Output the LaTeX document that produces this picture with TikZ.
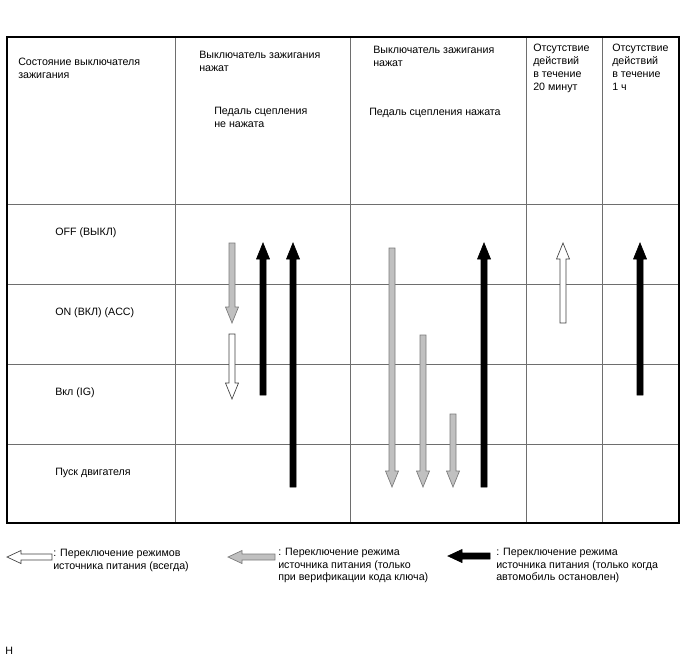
\documentclass[tikz,border=0pt]{standalone}
\usepackage{fontspec}
\setmainfont{Liberation Sans}
\usepackage{tikz}
\usepackage{xcolor}
\definecolor{keygray}{HTML}{C0C0C0}
\definecolor{keyedge}{HTML}{7A7A7A}
\definecolor{gridline}{HTML}{6E6E6E}

% block arrow, vertical: style, x, tail y, tip y
\newcommand{\vblock}[4]{%
  \pgfmathsetmacro{\arrbase}{#4-16*sign(#4-#3)}
  \draw[#1] (#2-3,#3) -- (#2-3,\arrbase) -- (#2-6.5,\arrbase) -- (#2,#4)
    -- (#2+6.5,\arrbase) -- (#2+3,\arrbase) -- (#2+3,#3) -- cycle;
}
% block arrow, horizontal: style, y, tail x, tip x
\newcommand{\hblock}[4]{%
  \pgfmathsetmacro{\arrbase}{#4-14*sign(#4-#3)}
  \draw[#1] (#3,#2-3) -- (\arrbase,#2-3) -- (\arrbase,#2-6.5) -- (#4,#2)
    -- (\arrbase,#2+6.5) -- (\arrbase,#2+3) -- (#3,#2+3) -- cycle;
}

\begin{document}
\begin{tikzpicture}[x=0.75pt, y=-0.75pt,
  every node/.style={inner sep=0pt, align=left, font=\fontsize{8}{9.4}\selectfont},
  grayarr/.style={fill=keygray, draw=keyedge, line width=0.5pt},
  whitearr/.style={fill=white, draw=black!75, line width=0.5pt},
  blackarr/.style={fill=black, draw=black, line width=0.5pt}]
\useasboundingbox (0,0) rectangle (688,658);

% === Table frame ===
\foreach \gx in {175,350,526,602} {
  \draw[gridline, line width=0.7pt] (\gx,37) -- (\gx,523);
}
\foreach \gy in {204,284,364,444} {
  \draw[gridline, line width=0.7pt] (7,\gy) -- (679,\gy);
}
\draw[black, line width=1pt] (7,37) rectangle (679,523);

% === Header row ===
\node[anchor=north west] (hdr-state) at (18,58) {Состояние выключателя\\зажигания};
\node[anchor=north west] (hdr-push1) at (199,51) {Выключатель зажигания\\нажат};
\node[anchor=north west] (hdr-clutch1) at (214,107) {Педаль сцепления\\не нажата};
\node[anchor=north west] (hdr-push2) at (373,46) {Выключатель зажигания\\нажат};
\node[anchor=north west] (hdr-clutch2) at (369,108) {Педаль сцепления нажата};
\node[anchor=north west, font=\fontsize{8}{9.8}\selectfont] (hdr-20min) at (533,44) {Отсутствие\\действий\\в течение\\20 минут};
\node[anchor=north west, font=\fontsize{8}{9.8}\selectfont] (hdr-1h) at (612,44) {Отсутствие\\действий\\в течение\\1 ч};

% === Row labels ===
\node[anchor=west] (row-off) at (55,233) {OFF (ВЫКЛ)};
\node[anchor=west] (row-acc) at (55,313) {ON (ВКЛ) (ACC)};
\node[anchor=west] (row-ig) at (55,393) {Вкл (IG)};
\node[anchor=west] (row-start) at (55,473) {Пуск двигателя};

% === Arrows: clutch not pressed ===
\vblock{grayarr}{232}{243}{323}
\vblock{whitearr}{232}{334}{399}
\vblock{blackarr}{263}{395}{243}
\vblock{blackarr}{293}{487}{243}

% === Arrows: clutch pressed ===
\vblock{grayarr}{392}{248}{487}
\vblock{grayarr}{423}{335}{487}
\vblock{grayarr}{453}{414}{487}
\vblock{blackarr}{484}{487}{243}

% === Arrows: no action ===
\vblock{whitearr}{563}{323}{243}
\vblock{blackarr}{640}{395}{243}

% === Legend ===
\hblock{whitearr}{557}{52}{7}
\node[anchor=north west] (key-always) at (53,549) {: Переключение режимов\\источника питания (всегда)};
\hblock{grayarr}{557}{275}{228}
\node[anchor=north west] (key-code) at (278,548) {: Переключение режима\\источника питания (только\\при верификации кода ключа)};
\hblock{blackarr}{556}{490}{448}
\node[anchor=north west] (key-stop) at (496,548) {: Переключение режима\\источника питания (только когда\\автомобиль остановлен)};

\node[anchor=west] (mark) at (5,651) {H};
\end{tikzpicture}
\end{document}
